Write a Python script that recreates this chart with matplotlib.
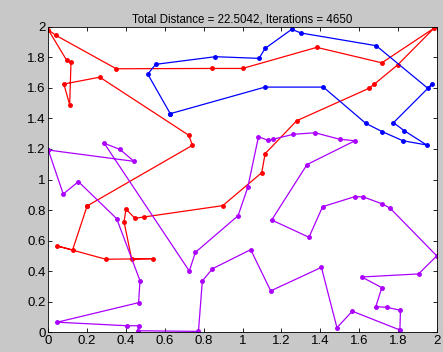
import numpy as np
import matplotlib.pyplot as plt

plt.rcParams['font.family'] = ['Liberation Sans', 'DejaVu Sans']

# routes of the three salesmen (closed loops)
red_x = [0.2, 0.742, 0.723, 0.265, 0.08, 0.11, 0.117, 0.095, 0.0, 0.04, 0.35,
         0.843, 1.0, 1.382, 1.717, 1.986, 1.799, 1.677, 1.651, 1.279, 1.116,
         1.099, 0.898, 0.494, 0.446, 0.4, 0.39, 0.429, 0.541, 0.297, 0.046,
         0.125, 0.2]
red_y = [0.827, 1.224, 1.29, 1.67, 1.625, 1.49, 1.77, 1.78, 1.98, 1.943, 1.725,
         1.727, 1.727, 1.865, 1.764, 1.991, 1.751, 1.623, 1.597, 1.385, 1.169,
         1.045, 0.829, 0.755, 0.746, 0.807, 0.724, 0.48, 0.482, 0.478, 0.565,
         0.539, 0.827]

blue_x = [0.628, 0.512, 0.553, 0.86, 1.085, 1.116, 1.253, 1.301, 1.688, 1.954,
          1.976, 1.777, 1.832, 1.948, 1.825, 1.72, 1.634, 1.416, 1.116, 0.628]
blue_y = [1.431, 1.69, 1.754, 1.804, 1.793, 1.858, 1.983, 1.959, 1.876, 1.597,
          1.625, 1.372, 1.32, 1.226, 1.254, 1.313, 1.368, 1.605, 1.605, 1.431]

purple_x = [0.0, 0.077, 0.155, 0.352, 0.472, 0.465, 0.046, 0.404, 0.465, 0.46,
            0.773, 0.793, 0.845, 1.042, 1.145, 1.406, 1.486, 1.565, 1.81, 1.813,
            1.744, 1.686, 1.717, 1.614, 1.906, 2.0, 1.76, 1.72, 1.622, 1.578,
            1.412, 1.342, 1.15, 1.332, 1.579, 1.502, 1.373, 1.262, 1.155, 1.129,
            1.082, 1.027, 0.977, 0.757, 0.726, 0.288, 0.369, 0.441, 0.0]
purple_y = [1.193, 0.905, 0.986, 0.744, 0.338, 0.194, 0.066, 0.043, 0.043, 0.01,
            0.006, 0.336, 0.416, 0.541, 0.271, 0.425, 0.03, 0.138, 0.015, 0.144,
            0.163, 0.168, 0.292, 0.362, 0.382, 0.5, 0.812, 0.84, 0.886, 0.888,
            0.822, 0.622, 0.735, 1.098, 1.254, 1.263, 1.306, 1.296, 1.263, 1.258,
            1.28, 0.949, 0.763, 0.523, 0.401, 1.237, 1.197, 1.119, 1.193]

fig = plt.figure(figsize=(4.43, 3.52), dpi=100, facecolor='#c8c8c8')
ax = fig.add_axes([0.109, 0.056, 0.877, 0.868])

ax.plot(red_x, red_y, '.-', color=(1, 0, 0), lw=0.9, ms=5)
ax.plot(blue_x, blue_y, '.-', color=(0, 0, 1), lw=0.9, ms=5)
ax.plot(purple_x, purple_y, '.-', color=(0.67, 0, 1), lw=0.9, ms=5)

ax.set_xlim(0, 2)
ax.set_ylim(0, 2)
ticks = np.arange(0, 2.01, 0.2)
labels = ['0', '0.2', '0.4', '0.6', '0.8', '1', '1.2', '1.4', '1.6', '1.8', '2']
ax.set_xticks(ticks)
ax.set_xticklabels(labels)
ax.set_yticks(ticks)
ax.set_yticklabels(labels)
ax.tick_params(direction='in', top=True, right=True, length=3, width=0.6,
               labelsize=9.5, pad=2)
for s in ax.spines.values():
    s.set_linewidth(0.6)

ax.set_title('Total Distance = 22.5042, Iterations = 4650', fontsize=8.3, pad=3)

plt.savefig('out.png', dpi=100, facecolor=fig.get_facecolor())
